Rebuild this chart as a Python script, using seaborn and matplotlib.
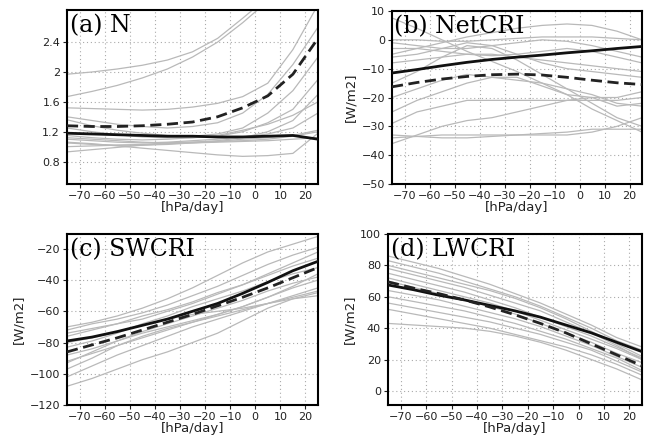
import numpy as np
import pandas as pd
import matplotlib
matplotlib.use("Agg")
import matplotlib.pyplot as plt
import seaborn as sns

# ---------------- data ----------------
omega = [-75, -65, -55, -45, -35, -25, -15, -5, 5, 15, 25]

# (a) N
a_mme_solid = [1.18, 1.17, 1.16, 1.15, 1.14, 1.14, 1.13, 1.13, 1.14, 1.15, 1.10]
a_mme_dash = [1.28, 1.27, 1.27, 1.28, 1.30, 1.33, 1.40, 1.52, 1.68, 1.97, 2.45]
a_models = [
    [1.97, 2.00, 2.04, 2.09, 2.16, 2.27, 2.45, 2.72, 3.00, 3.30, 3.60],
    [1.67, 1.74, 1.82, 1.92, 2.04, 2.20, 2.40, 2.66, 2.95, 3.25, 3.55],
    [1.52, 1.51, 1.50, 1.49, 1.50, 1.53, 1.58, 1.67, 1.85, 2.30, 2.90],
    [1.40, 1.35, 1.30, 1.27, 1.25, 1.27, 1.32, 1.45, 1.70, 2.10, 2.60],
    [1.36, 1.28, 1.22, 1.18, 1.15, 1.14, 1.17, 1.25, 1.45, 1.75, 2.20],
    [1.25, 1.20, 1.16, 1.13, 1.12, 1.12, 1.14, 1.20, 1.32, 1.50, 1.90],
    [1.15, 1.12, 1.10, 1.09, 1.10, 1.12, 1.15, 1.22, 1.30, 1.42, 1.60],
    [1.10, 1.08, 1.06, 1.05, 1.06, 1.08, 1.10, 1.13, 1.17, 1.25, 1.45],
    [1.05, 1.03, 1.02, 1.02, 1.03, 1.05, 1.07, 1.10, 1.12, 1.15, 1.22],
    [1.00, 1.01, 1.02, 1.03, 1.05, 1.06, 1.07, 1.08, 1.10, 1.14, 1.20],
    [0.93, 0.96, 0.99, 1.02, 1.04, 1.05, 1.06, 1.07, 1.08, 1.10, 1.12],
    [1.06, 1.04, 1.01, 0.98, 0.95, 0.92, 0.89, 0.87, 0.88, 0.91, 1.18],
    [1.12, 1.10, 1.08, 1.06, 1.05, 1.06, 1.08, 1.12, 1.20, 1.35, 1.70],
]

# (b) NetCRI
b_mme_solid = [-11.5, -10.3, -9.0, -7.8, -6.8, -6.0, -5.3, -4.5, -3.8, -3.0, -2.3]
b_mme_dash = [-16.3, -14.8, -13.6, -12.7, -12.1, -11.9, -12.2, -13.0, -14.0, -14.9, -15.5]
b_models = [
    [7.6, 4, 0, -4, -7.5, -11, -15, -19, -24, -28, -32],
    [-5, -3, -1, 1, 2.5, 4, 5, 5.5, 5, 3, 0],
    [0, 0, -0.5, -0.5, 0, 0.5, 1, 1, 1, 0.5, 0],
    [-1, -2, -3, -3, -2, -1, 0, -0.5, -2, -4, -6],
    [-3, -3, -4, -5, -5.5, -5, -4, -3, -4, -6, -8],
    [-6, -5, -3, -1, -2, -5, -8, -10, -11, -12, -13],
    [-8, -7, -6, -5, -5, -6, -7, -8, -9, -10, -11],
    [-15, -11, -6, -2, -3, -7, -12, -17, -22, -27, -30],
    [-20, -17, -14, -12, -13, -14, -15, -17, -19, -22, -23],
    [-25, -21, -18, -15, -13, -13, -16, -19, -20, -23, -22],
    [-29, -25, -23, -21, -21, -21, -21, -21, -21, -21, -20],
    [-34, -33.5, -33, -33, -33, -33, -33, -33, -32, -30, -27],
    [-36, -33, -30, -28, -27, -25, -23, -21, -20, -20, -18],
    [-33, -33.5, -34, -34, -33.5, -33, -32.5, -32, -31, -31, -31],
]

# (c) SWCRI
c_mme_solid = [-79, -76.5, -73, -69, -65, -60, -55, -48.5, -41.5, -34, -28]
c_mme_dash = [-86, -81.5, -77, -72, -67, -62, -56.5, -51, -45, -38.5, -32]
c_models = [
    [-70, -67, -63, -58, -52, -45, -37, -29, -22, -17, -12],
    [-72, -68, -65, -61, -56, -50, -44, -37, -30, -24, -19],
    [-74, -71, -68, -65, -60, -55, -49, -43, -36, -29, -22],
    [-76, -72, -68, -63, -59, -54, -48, -43, -37, -31, -26],
    [-83, -79, -74, -68, -63, -57, -52, -47, -41, -36, -32],
    [-88, -84, -79, -73, -68, -63, -58, -53, -47, -42, -38],
    [-92, -87, -82, -77, -72, -67, -62, -57, -51, -45, -40],
    [-97, -90, -82, -76, -71, -67, -63, -59, -55, -51, -47],
    [-102, -95, -88, -82, -76, -70, -65, -60, -55, -50, -45],
    [-108, -103, -97, -91, -86, -80, -74, -66, -58, -52, -48],
    [-80, -77, -73, -69, -65, -62, -60, -58, -55, -52, -50],
    [-93, -86, -79, -74, -70, -66, -62, -57, -51, -44, -36],
]

# (d) LWCRI
d_mme_solid = [67.5, 64.5, 61, 58, 54.5, 51, 47, 42, 37, 31, 25]
d_mme_dash = [69.5, 65.5, 62, 58, 53.5, 48.5, 43, 37, 30, 23, 16]
d_models = [
    [86, 82, 78, 73, 68, 62, 56, 49, 42, 34, 28],
    [83, 79, 75, 70, 65, 60, 54, 47, 40, 32, 26],
    [80, 76, 72, 68, 64, 59, 53, 46, 38, 30, 22],
    [78, 74, 70, 66, 61, 56, 51, 44, 37, 29, 20],
    [75, 71, 67, 63, 58, 53, 47, 41, 35, 28, 21],
    [70, 66, 62, 58, 54, 49, 43, 37, 31, 24, 18],
    [64, 61, 58, 54, 50, 46, 41, 35, 29, 22, 15],
    [60, 57, 54, 51, 47, 43, 38, 33, 27, 21, 13],
    [56, 53, 50, 47, 44, 40, 36, 31, 26, 19, 12],
    [52, 49, 46, 43, 40, 36, 32, 28, 23, 17, 10],
    [43, 42, 41, 40, 38, 35, 31, 26, 20, 14, 7],
    [72, 68, 64, 60, 56, 51, 45, 39, 33, 27, 20],
]

x_ticks = [-70, -60, -50, -40, -30, -20, -10, 0, 10, 20]
a_yticks = [0.8, 1.2, 1.6, 2.0, 2.4]
a_ytick_labels = ["0.8", "1.2", "1.6", "2", "2.4"]
b_yticks = [-50, -40, -30, -20, -10, 0, 10]
c_yticks = [-120, -100, -80, -60, -40, -20]
d_yticks = [0, 20, 40, 60, 80, 100]

titles = ["(a) N", "(b) NetCRI", "(c) SWCRI", "(d) LWCRI"]
xlabel = "[hPa/day]"
ylabel = "[W/m2]"

# ---------------- plotting ----------------
sns.set_theme(style="white")
plt.rcParams["font.family"] = ["DejaVu Sans"]

fig = plt.figure(figsize=(6.51, 4.42), dpi=100)
W, H = 651.0, 442.0

def rect(l, r, t, b):
    return [l / W, 1 - b / H, (r - l) / W, (b - t) / H]

panels = [
    dict(rect=rect(67, 318, 10, 184), models=a_models, solid=a_mme_solid, dash=a_mme_dash,
         ylim=(0.5, 2.83), yticks=a_yticks, ylabels=a_ytick_labels, ylab=None),
    dict(rect=rect(392, 642, 11, 184), models=b_models, solid=b_mme_solid, dash=b_mme_dash,
         ylim=(-50, 10), yticks=b_yticks, ylabels=None, ylab=ylabel),
    dict(rect=rect(67, 318, 234, 405), models=c_models, solid=c_mme_solid, dash=c_mme_dash,
         ylim=(-120, -10.5), yticks=c_yticks, ylabels=None, ylab=ylabel),
    dict(rect=rect(388, 642, 234, 405), models=d_models, solid=d_mme_solid, dash=d_mme_dash,
         ylim=(-9, 100), yticks=d_yticks, ylabels=None, ylab=ylabel),
]

for p, title in zip(panels, titles):
    ax = fig.add_axes(p["rect"])
    for m in p["models"]:
        sns.lineplot(x=omega, y=m, ax=ax, color="#b9b9b9", lw=0.9, zorder=2)
    sns.lineplot(x=omega, y=p["solid"], ax=ax, color="#111111", lw=2.0, zorder=4)
    ln = sns.lineplot(x=omega, y=p["dash"], ax=ax, color="#222222", lw=2.0, zorder=4)
    ln.lines[-1].set_dashes((4, 2))
    ax.set_xlim(-75, 25)
    ax.set_ylim(*p["ylim"])
    ax.set_xticks(x_ticks)
    ax.set_yticks(p["yticks"])
    if p["ylabels"] is not None:
        ax.set_yticklabels(p["ylabels"])
    ax.grid(True, color="#aaaaaa", lw=0.8, linestyle=(0, (1, 2.5)))
    ax.set_axisbelow(True)
    for s in ax.spines.values():
        s.set_color("black")
        s.set_linewidth(1.5)
    ax.tick_params(axis="both", direction="out", length=3, width=0.8,
                   labelsize=8, pad=2, colors="#222222", bottom=True, left=True)
    ax.set_xlabel(xlabel, fontsize=9.5, labelpad=0, color="#222222")
    if p["ylab"]:
        ax.set_ylabel(p["ylab"], fontsize=9.5, labelpad=3, color="#222222")
    else:
        ax.set_ylabel("")
    ax.text(0.01, 0.975, title, transform=ax.transAxes, ha="left", va="top",
            fontsize=17, family=["DejaVu Serif"], color="black", zorder=6)

fig.savefig("out.png", dpi=100)
